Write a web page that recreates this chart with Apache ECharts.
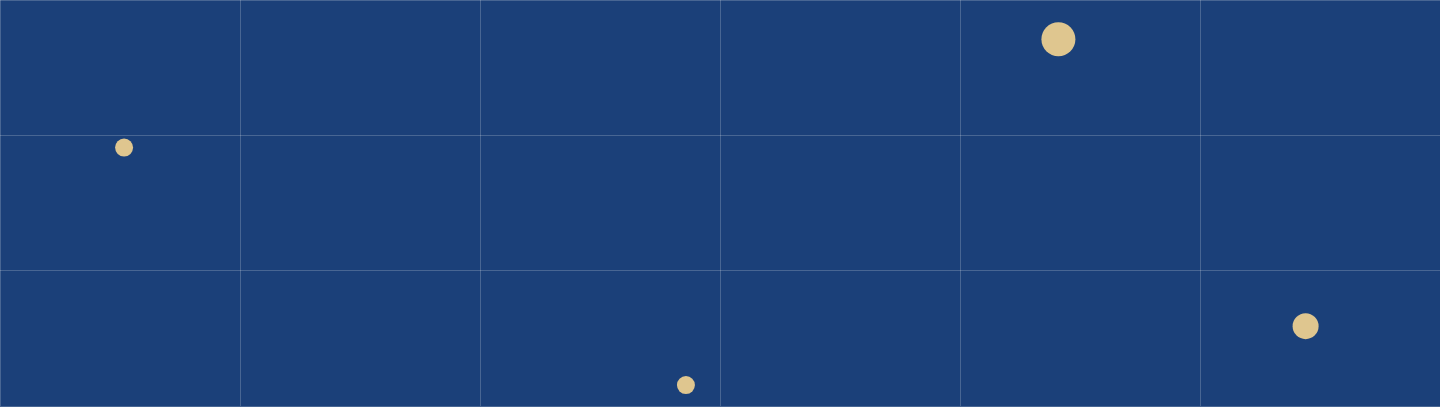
<!DOCTYPE html>
<html>
<head>
<meta charset="utf-8">
<script src="https://cdn.jsdelivr.net/npm/echarts@6/dist/echarts.min.js"></script>
<style>
    html, body { margin: 0; padding: 0; background: #1b4079; }
    #chart { width: 1440px; height: 407px; }
</style>
</head>
<body>
<div id="chart"></div>
<script>
// 点的数据
const xValues = [0.517, 2.858, 4.41, 5.44];
const yValues = [1.91, 0.155, 2.71, 0.59];
const sizes = [18, 18, 34, 26];

const points = xValues.map((x, i) => [x, yValues[i], sizes[i]]);

const gridLine = {
    show: true,
    lineStyle: { color: 'rgba(255, 255, 255, 0.2)', width: 1 }
};

const option = {
    backgroundColor: '#1b4079',
    animation: false,
    grid: { left: 0, right: 0, top: 0, bottom: 1 },
    xAxis: {
        type: 'value',
        min: 0,
        max: 6,
        interval: 1,
        axisLine: { show: false },
        axisTick: { show: false },
        axisLabel: { show: false },
        splitLine: gridLine
    },
    yAxis: {
        type: 'value',
        min: 0,
        max: 3,
        interval: 1,
        axisLine: { show: false },
        axisTick: { show: false },
        axisLabel: { show: false },
        splitLine: gridLine
    },
    series: [
        {
            type: 'scatter',
            data: points,
            symbolSize: d => d[2],
            itemStyle: { color: '#dfc68f', opacity: 1 }
        }
    ]
};

const chart = echarts.init(document.getElementById('chart'));
chart.setOption(option);
</script>
</body>
</html>
